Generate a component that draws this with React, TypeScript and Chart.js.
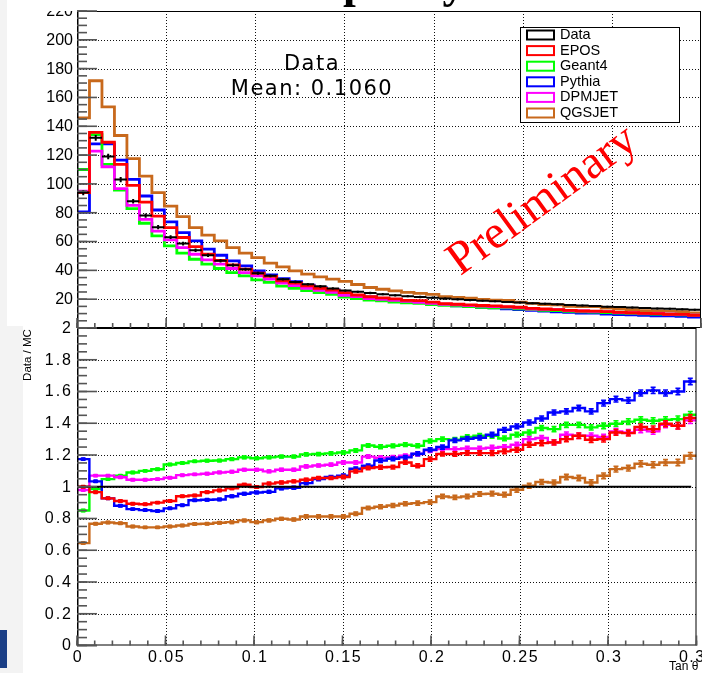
import React, { useEffect, useRef } from 'react';
import { Chart, registerables } from 'chart.js';
Chart.register(...registerables);

// ---------- binning ----------
const NBINS = 50;
const BIN_WIDTH = 0.007;
const binEdges: number[] = Array.from({ length: NBINS + 1 }, (_, i) => Math.round(i * BIN_WIDTH * 10000) / 10000);
const binCenters: number[] = binEdges.slice(0, NBINS).map((e) => e + BIN_WIDTH / 2);

// ---------- series ----------
const seriesNames = ['Data', 'EPOS', 'Geant4', 'Pythia', 'DPMJET', 'QGSJET'];
const seriesColors = ['#000000', '#ff0000', '#00ff00', '#0000ff', '#ff00ff', '#c8691c'];

const dataCounts = [94, 132, 119, 103, 88, 78, 70, 63, 58.6, 54, 50.5, 46.6, 43.6, 40.8, 38, 36.2, 33.8, 32.0, 30.4, 28.9,
  27.5, 26.0, 25.1, 24.3, 23.5, 22.7, 22.1, 21.5, 21.0, 20.4, 19.9, 19.4, 18.9, 18.5, 18.1, 17.7, 17.2, 16.8, 16.4, 16.0,
  15.6, 15.2, 14.8, 14.5, 14.2, 13.9, 13.6, 13.3, 13.0, 12.6];
const dataErr = [1.8, 2.0, 1.9, 1.8, 1.6, 1.5, 1.4, 1.3, 1.3, 1.2, 1.2, 1.1, 1.1, 1.0, 1.0, 1.0, 0.9, 0.9, 0.9, 0.9,
  0.8, 0.8, 0.8, 0.8, 0.8, 0.8, 0.8, 0.8, 0.8, 0.8, 0.8, 0.8, 0.7, 0.7, 0.7, 0.7, 0.7, 0.7, 0.7, 0.7,
  0.7, 0.7, 0.7, 0.7, 0.7, 0.7, 0.7, 0.7, 0.7, 0.7];

const eposCounts = [94, 135.8, 128.9, 113.5, 99, 87.4, 77.7, 69.7, 62.8, 56.5, 51.2, 47, 43.8, 40.8, 38, 35.8, 32.7, 31.1, 29.3, 27.5,
  26.3, 24.5, 22.9, 21.7, 20.9, 20.2, 19.2, 19.0, 17.9, 16.9, 16.5, 16.0, 15.6, 15.3, 14.8, 14.4, 13.6, 13.2, 12.8, 12.3,
  11.8, 11.7, 11.4, 10.8, 10.6, 10.1, 10.0, 9.5, 9.4, 8.8];
const geant4Counts = [110, 134.2, 113.5, 95.7, 82.8, 72.7, 63.9, 57, 51.9, 47.7, 44.3, 41.3, 38.5, 36.2, 33.4, 31.6, 29.1, 27.5, 25.9, 24.5,
  23.3, 21.4, 20.4, 19.3, 18.8, 18.0, 17.5, 17.1, 16.3, 15.7, 15.4, 14.8, 14.3, 14.0, 13.9, 13.3, 12.8, 12.3, 12.0, 11.5,
  11.2, 11.1, 10.7, 10.4, 10.1, 9.8, 9.6, 9.4, 9.1, 8.7];
const pythiaCounts = [80.5, 127.8, 127.8, 116.5, 103.1, 91.6, 81.9, 73.6, 66.2, 60.4, 54.7, 50.5, 46.6, 43.1, 39.7, 36.9, 34.2, 32.1, 29.8, 27.9,
  26.4, 24.3, 22.6, 21.5, 20.2, 19.3, 18.6, 17.8, 17.0, 16.3, 15.4, 14.9, 14.4, 13.9, 13.3, 12.8, 12.2, 11.7, 11.2, 10.8,
  10.4, 10.3, 9.7, 9.3, 9.2, 8.7, 8.5, 8.4, 8.1, 7.6];
const dpmjetCounts = [95, 122.7, 111.9, 96.7, 85.1, 75.4, 67.3, 61.1, 55.8, 51.2, 47.3, 44.3, 41.3, 38.5, 36.2, 33.9, 31.2, 29.5, 27.6, 26.2,
  24.8, 22.6, 21.8, 20.4, 19.9, 19.2, 18.5, 17.8, 17.1, 16.5, 16.1, 15.6, 15.2, 14.8, 14.5, 14.0, 13.2, 12.9, 12.8, 12.0,
  11.8, 11.5, 11.3, 10.7, 10.6, 10.2, 10.1, 9.6, 9.4, 8.9];
const qgsjetCounts = [145.8, 171.6, 153.4, 133.6, 117.6, 105.4, 93.9, 84.6, 77.3, 69.7, 64.4, 60.4, 55.8, 51.9, 48.9, 45, 42.4, 39.7, 37.4, 35.5,
  33.9, 32.4, 30.2, 28.1, 26.9, 25.7, 24.7, 24.0, 23.3, 21.7, 21.3, 20.7, 19.8, 19.4, 19.1, 18.0, 17.1, 16.3, 16.0, 15.1,
  14.8, 14.8, 13.8, 13.1, 12.7, 12.1, 11.9, 11.5, 11.3, 10.5];

// Data / MC ratios
const eposRatio = [1.0, 0.966, 0.927, 0.91, 0.893, 0.89, 0.90, 0.91, 0.94, 0.945, 0.966, 0.977, 0.99, 1.013, 0.998, 1.02, 1.027, 1.034, 1.044, 1.055,
  1.055, 1.061, 1.097, 1.118, 1.123, 1.124, 1.153, 1.132, 1.174, 1.206, 1.206, 1.212, 1.212, 1.212, 1.223, 1.233, 1.265, 1.275, 1.279, 1.30,
  1.321, 1.296, 1.30, 1.342, 1.338, 1.376, 1.363, 1.397, 1.384, 1.433];
const geant4Ratio = [0.85, 0.985, 1.048, 1.07, 1.09, 1.10, 1.11, 1.14, 1.15, 1.16, 1.164, 1.165, 1.174, 1.185, 1.18, 1.185, 1.19, 1.19, 1.204, 1.206,
  1.21, 1.216, 1.229, 1.26, 1.252, 1.258, 1.265, 1.258, 1.288, 1.30, 1.296, 1.313, 1.321, 1.321, 1.304, 1.328, 1.342, 1.37, 1.363, 1.39,
  1.39, 1.374, 1.384, 1.397, 1.41, 1.422, 1.416, 1.422, 1.426, 1.454];
const pythiaRatio = [1.174, 1.034, 0.927, 0.88, 0.859, 0.853, 0.847, 0.864, 0.884, 0.915, 0.918, 0.92, 0.94, 0.956, 0.964, 0.968, 0.99, 0.994, 1.023, 1.048,
  1.061, 1.069, 1.113, 1.132, 1.165, 1.176, 1.185, 1.208, 1.233, 1.25, 1.292, 1.302, 1.309, 1.328, 1.359, 1.38, 1.405, 1.43, 1.468, 1.475,
  1.496, 1.475, 1.527, 1.552, 1.544, 1.59, 1.607, 1.59, 1.60, 1.663];
const dpmjetRatio = [0.98, 1.07, 1.07, 1.06, 1.044, 1.044, 1.048, 1.057, 1.073, 1.078, 1.082, 1.09, 1.094, 1.107, 1.107, 1.097, 1.107, 1.107, 1.128, 1.134,
  1.139, 1.153, 1.153, 1.19, 1.183, 1.185, 1.195, 1.206, 1.229, 1.237, 1.237, 1.241, 1.241, 1.246, 1.25, 1.265, 1.30, 1.307, 1.28, 1.328,
  1.321, 1.321, 1.313, 1.349, 1.342, 1.359, 1.349, 1.39, 1.384, 1.418];
const qgsjetRatio = [0.645, 0.767, 0.775, 0.77, 0.75, 0.744, 0.744, 0.75, 0.756, 0.765, 0.767, 0.773, 0.777, 0.788, 0.777, 0.788, 0.798, 0.794, 0.813, 0.813,
  0.813, 0.813, 0.83, 0.866, 0.874, 0.882, 0.893, 0.897, 0.903, 0.939, 0.933, 0.939, 0.954, 0.956, 0.95, 0.981, 1.006, 1.03, 1.027, 1.061,
  1.055, 1.027, 1.069, 1.111, 1.118, 1.145, 1.139, 1.153, 1.153, 1.195];
const ratioErr = [0.006, 0.006, 0.006, 0.006, 0.006, 0.006, 0.006, 0.006, 0.006, 0.006,
  0.007, 0.007, 0.008, 0.008, 0.008, 0.009, 0.009, 0.009, 0.010, 0.010,
  0.010, 0.011, 0.011, 0.011, 0.012, 0.012, 0.012, 0.013, 0.013, 0.013,
  0.014, 0.014, 0.014, 0.015, 0.015, 0.015, 0.016, 0.016, 0.016, 0.017,
  0.017, 0.017, 0.018, 0.018, 0.018, 0.019, 0.019, 0.019, 0.020, 0.020];

// ---------- axes ----------
const X_MIN = 0;
const X_MAX = 0.35;
const xMajorTicks = [0, 0.05, 0.1, 0.15, 0.2, 0.25, 0.3, 0.35];
const xTickLabels = ['0', '0.05', '0.1', '0.15', '0.2', '0.25', '0.3', '0.35'];
const xMinorCount = 35; // minor tick every 0.01
const topYMax = 220;
const topYTicks = [20, 40, 60, 80, 100, 120, 140, 160, 180, 200, 220];
const topYLabels = ['20', '40', '60', '80', '100', '120', '140', '160', '180', '200', '220'];
const topYMinorCount = 44; // every 5
const ratioYMax = 2;
const ratioYTicks = [0, 0.2, 0.4, 0.6, 0.8, 1, 1.2, 1.4, 1.6, 1.8, 2];
const ratioYLabels = ['0', '0.2', '0.4', '0.6', '0.8', '1', '1.2', '1.4', '1.6', '1.8', '2'];
const ratioYMinorCount = 40; // every 0.05

// ---------- data builders ----------
type P = { x: number; y: number | null };
function histSteps(vals: number[]): P[] {
  const pts: P[] = [{ x: binEdges[0], y: vals[0] }];
  vals.forEach((v, i) => pts.push({ x: binEdges[i + 1], y: v }));
  return pts;
}
function histSegments(vals: number[]): P[] {
  const pts: P[] = [];
  vals.forEach((v, i) => {
    pts.push({ x: binEdges[i], y: v }, { x: binEdges[i + 1], y: v }, { x: binEdges[i + 1], y: null });
  });
  return pts;
}
function errorBars(vals: number[], errs: number[]): P[] {
  const pts: P[] = [];
  vals.forEach((v, i) => {
    const e = errs[i];
    pts.push({ x: binCenters[i], y: v - e }, { x: binCenters[i], y: v + e }, { x: binCenters[i], y: null });
  });
  return pts;
}
function errorCaps(vals: number[], errs: number[]): P[] {
  const pts: P[] = [];
  vals.forEach((v, i) => {
    pts.push({ x: binCenters[i], y: v - errs[i] }, { x: binCenters[i], y: v + errs[i] });
  });
  return pts;
}
function centerPoints(vals: number[]): P[] {
  return vals.map((v, i) => ({ x: binCenters[i], y: v }));
}

// stepped 'before': each segment holds the value of its right-hand point over [x_i, x_{i+1}]
function stepDataset(vals: number[], color: string, width: number) {
  return {
    data: histSteps(vals), borderColor: color, borderWidth: width, stepped: 'after' as const,
    pointRadius: 0, fill: false, borderCapStyle: 'butt' as const, borderJoinStyle: 'miter' as const,
  };
}
function ratioDatasets(vals: number[], color: string) {
  return [
    { data: centerPoints(vals), showLine: false, pointStyle: 'rect', pointRadius: 2.8, pointBackgroundColor: color, pointBorderWidth: 0 },
    { data: errorCaps(vals, ratioErr), showLine: false, pointStyle: 'line', pointRadius: 2.5, pointBorderColor: color, pointBorderWidth: 1.5 },
    { data: errorBars(vals, ratioErr), borderColor: color, borderWidth: 1.6, pointRadius: 0, spanGaps: false },
    stepDataset(vals, color, 2.4),
  ];
}

// ---------- drawing helpers ----------
function seg(ctx: CanvasRenderingContext2D, x1: number, y1: number, x2: number, y2: number) {
  ctx.beginPath();
  ctx.moveTo(x1, y1);
  ctx.lineTo(x2, y2);
  ctx.stroke();
}

function drawGrid(chart: any, yGrid: number[]) {
  const { ctx, chartArea: a } = chart;
  const xs = chart.scales.x, ys = chart.scales.y;
  ctx.save();
  ctx.strokeStyle = '#111';
  ctx.lineWidth = 1;
  ctx.setLineDash([1, 2]);
  xMajorTicks.slice(1, -1).forEach((t) => {
    const px = Math.round(xs.getPixelForValue(t)) + 0.5;
    seg(ctx, px, a.top, px, a.bottom);
  });
  yGrid.forEach((t) => {
    const py = Math.round(ys.getPixelForValue(t)) + 0.5;
    seg(ctx, a.left, py, a.right, py);
  });
  ctx.restore();
}

function drawFrameAndTicks(chart: any, yMajor: number[], yMinorCount: number, yMax: number) {
  const { ctx, chartArea: a } = chart;
  const xs = chart.scales.x, ys = chart.scales.y;
  ctx.save();
  ctx.setLineDash([]);
  ctx.strokeStyle = '#000';
  ctx.lineWidth = 1;
  ctx.strokeRect(a.left + 0.5, a.top + 0.5, a.right - a.left - 1, a.bottom - a.top - 1);
  ctx.lineWidth = 1.5;
  seg(ctx, a.left + 0.75, a.top, a.left + 0.75, a.bottom);
  ctx.strokeStyle = '#555';
  ctx.lineWidth = 1.6;
  yMajor.concat([0]).forEach((v) => {
    const py = ys.getPixelForValue(v);
    seg(ctx, a.left, py, a.left + 20, py);
  });
  for (let k = 0; k <= yMinorCount; k++) {
    const v = (yMax * k) / yMinorCount;
    const py = ys.getPixelForValue(v);
    seg(ctx, a.left, py, a.left + 10, py);
  }
  xMajorTicks.forEach((v) => {
    const px = xs.getPixelForValue(v);
    seg(ctx, px, a.bottom, px, a.bottom - 10);
  });
  for (let k = 0; k <= xMinorCount; k++) {
    const v = (X_MAX * k) / xMinorCount;
    const px = xs.getPixelForValue(v);
    seg(ctx, px, a.bottom, px, a.bottom - 5);
  }
  ctx.restore();
}

function drawYLabels(chart: any, ticks: number[], labels: string[], font: string, spacing: string, clipTop: number) {
  const { ctx, chartArea: a } = chart;
  const ys = chart.scales.y;
  ctx.save();
  ctx.beginPath();
  ctx.rect(0, clipTop, a.left, chart.height - clipTop);
  ctx.clip();
  ctx.fillStyle = '#000';
  ctx.font = font;
  (ctx as any).letterSpacing = spacing;
  ctx.textAlign = 'right';
  ctx.textBaseline = 'middle';
  ticks.forEach((t, i) => {
    ctx.fillText(labels[i], a.left - 4, ys.getPixelForValue(t) + 0.5);
  });
  ctx.restore();
}

const topPlugin = {
  id: 'topPad',
  beforeDatasetsDraw(chart: any) {
    drawGrid(chart, topYTicks.slice(0, -1));
  },
  afterDraw(chart: any) {
    const { ctx } = chart;
    drawFrameAndTicks(chart, topYTicks, topYMinorCount, topYMax);
    drawYLabels(chart, topYTicks, topYLabels, '16px "Liberation Sans", Arial, sans-serif', '0px', chart.chartArea.top);

    ctx.save();
    // clipped title
    ctx.fillStyle = '#000';
    ctx.font = 'bold 46px "Liberation Serif", serif';
    ctx.textAlign = 'left';
    ctx.textBaseline = 'alphabetic';
    ctx.fillText('Multiplicity', 233, -3);

    // statistics text
    ctx.font = '21px "DejaVu Sans", sans-serif';
    (ctx as any).letterSpacing = '1.5px';
    ctx.textAlign = 'center';
    ctx.textBaseline = 'middle';
    ctx.fillText('Data', 312, 65);
    ctx.fillText('Mean: 0.1060', 312, 90);
    (ctx as any).letterSpacing = '0px';

    // legend
    ctx.strokeStyle = '#000';
    ctx.lineWidth = 1;
    ctx.fillStyle = '#fff';
    ctx.fillRect(521, 28, 159, 94);
    ctx.strokeRect(520.5, 27.5, 159, 95);
    ctx.font = '14.5px "Liberation Sans", Arial, sans-serif';
    ctx.textAlign = 'left';
    ctx.textBaseline = 'middle';
    seriesNames.forEach((name, i) => {
      const cy = 35 + i * 15.6;
      ctx.strokeStyle = seriesColors[i];
      ctx.lineWidth = 2;
      ctx.strokeRect(527, cy - 4.5, 27, 9);
      ctx.fillStyle = '#000';
      ctx.fillText(name, 560, cy);
    });

    // watermark
    ctx.translate(550, 211);
    ctx.rotate((-36 * Math.PI) / 180);
    ctx.fillStyle = '#ff0000';
    ctx.font = '47px "Liberation Serif", "Times New Roman", serif';
    ctx.textAlign = 'center';
    ctx.textBaseline = 'alphabetic';
    ctx.fillText('Preliminary', 0, 0);
    ctx.restore();
  },
};

const bottomPlugin = {
  id: 'ratioPad',
  beforeDatasetsDraw(chart: any) {
    drawGrid(chart, ratioYTicks.slice(1, -1));
  },
  afterDraw(chart: any) {
    const { ctx, chartArea: a } = chart;
    const xs = chart.scales.x;
    drawFrameAndTicks(chart, ratioYTicks, ratioYMinorCount, ratioYMax);
    drawYLabels(chart, ratioYTicks, ratioYLabels, '16px "Liberation Sans", Arial, sans-serif', '2px', 0);
    ctx.save();
    ctx.fillStyle = '#000';
    ctx.font = '16px "Liberation Sans", Arial, sans-serif';
    (ctx as any).letterSpacing = '1.5px';
    ctx.textAlign = 'center';
    ctx.textBaseline = 'middle';
    xMajorTicks.forEach((t, i) => {
      ctx.fillText(xTickLabels[i], xs.getPixelForValue(t) + 1, a.bottom + 12.5);
    });
    (ctx as any).letterSpacing = '0px';
    ctx.font = '12px "Liberation Sans", Arial, sans-serif';
    ctx.textAlign = 'left';
    ctx.fillText('Tan θ', 669, a.bottom + 21);
    ctx.translate(28, 37);
    ctx.rotate(-Math.PI / 2);
    ctx.font = '11.5px "Liberation Sans", Arial, sans-serif';
    ctx.textAlign = 'center';
    ctx.fillText('Data / MC', 0, 0);
    ctx.restore();
  },
};

function baseOptions(yMax: number, padding: any) {
  return {
    responsive: false,
    animation: false as const,
    devicePixelRatio: 1,
    events: [] as any[],
    layout: { padding },
    plugins: { legend: { display: false }, tooltip: { enabled: false } },
    scales: {
      x: { type: 'linear' as const, min: X_MIN, max: X_MAX, display: false },
      y: { type: 'linear' as const, min: 0, max: yMax, display: false },
    },
  };
}

export default function App() {
  const topRef = useRef<HTMLCanvasElement>(null);
  const botRef = useRef<HTMLCanvasElement>(null);

  useEffect(() => {
    const topChart = new Chart(topRef.current as HTMLCanvasElement, {
      type: 'line',
      data: {
        datasets: [
          { data: errorBars(dataCounts, dataErr), borderColor: '#000', borderWidth: 2, pointRadius: 0, spanGaps: false },
          { data: histSegments(dataCounts), borderColor: '#000', borderWidth: 2, pointRadius: 0, spanGaps: false },
          stepDataset(eposCounts, seriesColors[1], 2.8),
          stepDataset(dpmjetCounts, seriesColors[4], 2.8),
          stepDataset(geant4Counts, seriesColors[2], 2.8),
          stepDataset(pythiaCounts, seriesColors[3], 2.8),
          stepDataset(qgsjetCounts, seriesColors[5], 2.8),
        ] as any,
      },
      options: baseOptions(topYMax, { left: 77, right: 1, top: 11, bottom: 2 }) as any,
      plugins: [topPlugin],
    });

    const botChart = new Chart(botRef.current as HTMLCanvasElement, {
      type: 'line',
      data: {
        datasets: [
          { data: [{ x: 0, y: 1 }, { x: 0.347, y: 1 }], borderColor: '#000', borderWidth: 2, pointRadius: 0 },
          ...ratioDatasets(eposRatio, seriesColors[1]),
          ...ratioDatasets(pythiaRatio, seriesColors[3]),
          ...ratioDatasets(dpmjetRatio, seriesColors[4]),
          ...ratioDatasets(geant4Ratio, seriesColors[2]),
          ...ratioDatasets(qgsjetRatio, seriesColors[5]),
        ] as any,
      },
      options: baseOptions(ratioYMax, { left: 77, right: 1, top: 10, bottom: 27.5 }) as any,
      plugins: [bottomPlugin],
    });

    return () => {
      topChart.destroy();
      botChart.destroy();
    };
  }, []);

  return (
    <div style={{ position: 'fixed', left: 0, top: 0, width: 702, height: 673, background: '#fff', overflow: 'hidden' }}>
      <div style={{ position: 'absolute', left: 0, top: 0, width: 7, height: 673, background: '#f3f3f3' }} />
      <div style={{ position: 'absolute', left: 0, top: 326, width: 23, height: 347, background: '#f3f3f3' }} />
      <div style={{ position: 'absolute', left: 0, top: 630, width: 7, height: 38, background: '#1b3f86' }} />
      <canvas ref={topRef} width={702} height={330} style={{ position: 'absolute', left: 0, top: 0, width: 702, height: 330 }} />
      <canvas ref={botRef} width={702} height={355} style={{ position: 'absolute', left: 0, top: 318, width: 702, height: 355 }} />
    </div>
  );
}
